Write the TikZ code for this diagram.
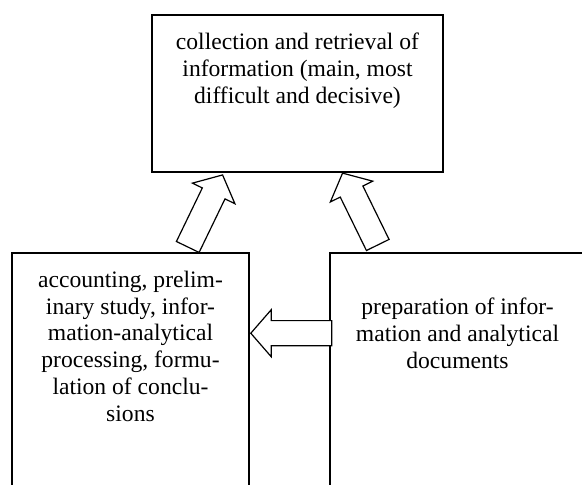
\documentclass[tikz,border=0pt]{standalone}
\usepackage{fontspec}
\setmainfont{Liberation Serif}
\usepackage{tikz}
\usetikzlibrary{arrows.meta, calc, positioning, shapes.arrows}

\begin{document}
\begin{tikzpicture}[x=0.5pt, y=0.5pt,
    stagebox/.style={draw, line width=1pt, rectangle, inner sep=0pt},
    stagetext/.style={align=center, inner sep=0pt, font=\fontsize{11.8}{13.4}\selectfont},
    blockarrow/.style={draw, single arrow, line width=0.6pt, fill=white,
      inner xsep=0pt, inner ysep=6pt, text height=0pt, text depth=0pt,
      single arrow head extend=5.5pt, single arrow tip angle=98,
      minimum height=40pt}]
  \clip (0,0) rectangle (582,484);
  % boxes
  \node[stagebox, minimum width=145.5pt, minimum height=78.5pt] (collect) at (297.5,390.5) {};
  \node[stagebox, minimum width=118.5pt, minimum height=123.5pt] (account) at (130.5,107.5) {};
  \node[stagebox, minimum width=127.5pt, minimum height=123.5pt] (prepare) at (457.5,107.5) {};
  % texts
  \node[stagetext, below=9.3pt of collect.north] (collecttxt) {collection and retrieval of\\information (main, most\\difficult and decisive)};
  \node[stagetext, below=9.3pt of account.north] (accounttxt) {accounting, prelim-\\inary study, infor-\\mation-analytical\\processing, formu-\\lation of conclu-\\sions};
  \node[stagetext, below=22.8pt of prepare.north] (preparetxt) {preparation of infor-\\mation and analytical\\documents};
  % block arrows
  \node[blockarrow, rotate=64.2, anchor=tail] (upleft) at ([shift={(176.5,4.5)}]account.north west) {};
  \node[blockarrow, rotate=116.1, anchor=tail] (upright) at ([shift={(49,6.5)}]prepare.north west) {};
  \node[blockarrow, rotate=180, minimum height=40.5pt, anchor=tip] (back) at (account.east |- preparetxt) {};
\end{tikzpicture}
\end{document}
